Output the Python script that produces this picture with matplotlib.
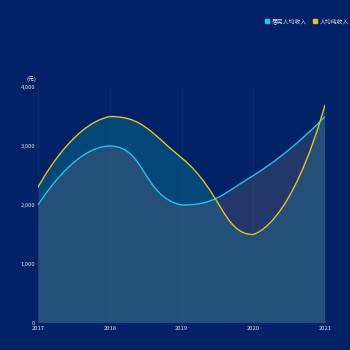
import numpy as np
import matplotlib
matplotlib.use("Agg")
import matplotlib.pyplot as plt
from matplotlib.path import Path
from matplotlib.patches import PathPatch

plt.rcParams['font.family'] = ['Noto Sans CJK SC', 'DejaVu Sans']

years = [2017, 2018, 2019, 2020, 2021]
resident_income = [2000, 3000, 2000, 2500, 3500]
net_income = [2300, 3500, 2800, 1500, 3700]
series_names = ["居民人均收入", "人均纯收入"]
yticks = [0, 1000, 2000, 3000, 4000]

bg = "#012266"
cyan = "#1cc4ef"
yellow = "#e2c21c"


def smooth_path(xs, ys, sx, sy, smooth=0.5):
    # echarts-style bezier smoothing, computed in pixel space
    px = np.array(xs, float) * sx
    py = np.array(ys, float) * sy
    n = len(px)
    cin = [(px[i], py[i]) for i in range(n)]
    cout = [(px[i], py[i]) for i in range(n)]
    for i in range(1, n - 1):
        vx = px[i + 1] - px[i - 1]
        vy = py[i + 1] - py[i - 1]
        lp = np.hypot(px[i] - px[i - 1], py[i] - py[i - 1])
        ln = np.hypot(px[i + 1] - px[i], py[i + 1] - py[i])
        r = ln / (ln + lp)
        ax_ = px[i] - vx * smooth * (1 - r)
        ay_ = py[i] - vy * smooth * (1 - r)
        bx_ = px[i] + vx * smooth * r
        by_ = py[i] + vy * smooth * r
        ax_ = min(max(ax_, min(px[i - 1], px[i])), max(px[i - 1], px[i]))
        ay_ = min(max(ay_, min(py[i - 1], py[i])), max(py[i - 1], py[i]))
        bx_ = min(max(bx_, min(px[i + 1], px[i])), max(px[i + 1], px[i]))
        by_ = min(max(by_, min(py[i + 1], py[i])), max(py[i + 1], py[i]))
        cin[i] = (ax_, ay_)
        cout[i] = (bx_, by_)
    verts = [(px[0], py[0])]
    codes = [Path.MOVETO]
    for i in range(n - 1):
        verts += [cout[i], cin[i + 1], (px[i + 1], py[i + 1])]
        codes += [Path.CURVE4] * 3
    verts = [(x / sx, y / sy) for x, y in verts]
    return verts, codes


fig = plt.figure(figsize=(3.5, 3.5), dpi=100, facecolor=bg)
ax = fig.add_axes([0.1086, 0.0771, 0.82, 0.6743], facecolor=bg)
ax.set_xlim(2017, 2021)
ax.set_ylim(0, 4000)

sx = 287 / 4
sy = 236 / 4000

fills = [(resident_income, "#61617a", 0.35, 3), (net_income, "#0a9aa2", 0.3, 2)]
for vals, fc, a, z in fills:
    verts, codes = smooth_path(years, vals, sx, sy)
    pv = verts + [(years[-1], 0), (years[0], 0), verts[0]]
    pc = codes + [Path.LINETO, Path.LINETO, Path.CLOSEPOLY]
    ax.add_patch(PathPatch(Path(pv, pc), facecolor=fc, alpha=a, edgecolor="none", zorder=z))

for vals, lc, name in [(resident_income, cyan, series_names[0]), (net_income, yellow, series_names[1])]:
    verts, codes = smooth_path(years, vals, sx, sy)
    ax.add_patch(PathPatch(Path(verts, codes), facecolor="none", edgecolor=lc, lw=1.0, zorder=5))
    ax.plot([], [], marker="s", ls="none", color=lc, markersize=3, label=name)

for y in years[1:-1]:
    ax.axvline(y, color="#0c2c6e", lw=0.6, zorder=1)

for s in ["top", "right", "bottom"]:
    ax.spines[s].set_visible(False)
ax.spines["left"].set_color("#0c2c6e")
ax.spines["left"].set_linewidth(0.6)

ax.set_xticks(years)
ax.set_xticklabels([str(y) for y in years])
ax.set_yticks(yticks)
ax.set_yticklabels([f"{v:,}" for v in yticks])
ax.tick_params(colors="#d8deea", labelsize=4.2, length=0, pad=2)
ax.text(-0.005, 1.035, "(元)", transform=ax.transAxes, fontsize=4.2, color="#d8deea", ha="right", va="center")

fig.legend(loc="upper right", bbox_to_anchor=(1.012, 0.962), ncol=2, frameon=False,
           fontsize=4.2, labelcolor="#d8deea", handlelength=0.8, handletextpad=0.4,
           columnspacing=1.0)

fig.savefig("out.png", dpi=100, facecolor=bg)
